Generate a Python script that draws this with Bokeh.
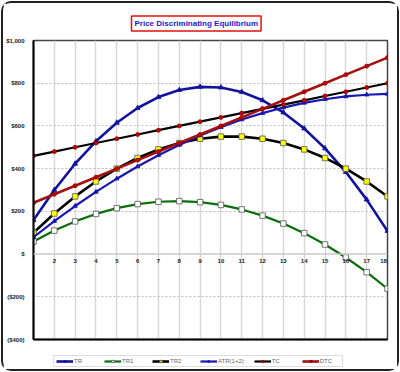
from bokeh.plotting import figure
from bokeh.layouts import column
from bokeh.models import (FixedTicker, Legend, LegendItem, Span, LabelSet,
                          ColumnDataSource, Range1d)
from bokeh.core.properties import value
from bokeh.embed import file_html
from bokeh.resources import INLINE

# ---- data ----
quantity = list(range(1, 19))
tr = [159, 300, 423, 528, 615, 684, 735, 768, 783, 780, 759, 720, 663, 588, 495, 384, 255, 108]
tr1 = [59, 110, 153, 188, 215, 234, 245, 248, 243, 230, 209, 180, 143, 98, 45, -16, -85, -162]
tr2 = [100, 190, 270, 340, 400, 450, 490, 520, 540, 550, 550, 540, 520, 490, 450, 400, 340, 270]
atr = [79, 154, 225, 291, 353, 410, 463, 511, 555, 594, 630, 660, 686, 708, 725, 738, 746, 750]
tc = [460, 480, 500, 520, 540, 560, 580, 600, 620, 640, 660, 680, 700, 720, 740, 760, 780, 800]
dtc = [240, 280, 320, 360, 400, 440, 480, 520, 560, 600, 640, 680, 720, 760, 800, 840, 880, 920]
y_ticks = [-400, -200, 0, 200, 400, 600, 800, 1000]
y_tick_labels = ["($400)", "($200)", "$", "$200", "$400", "$600", "$800", "$1,000"]
x_tick_labels = [str(q) for q in quantity[1:]]

FONT = "Liberation Sans"

p = figure(width=394, height=345, output_backend="svg", toolbar_location=None,
           x_range=Range1d(1, 18), y_range=Range1d(-400, 1000),
           min_border_left=27, min_border_right=10, min_border_top=37,
           min_border_bottom=9, background_fill_color="white",
           border_fill_color="white")

# title
p.title.text = "Price Discriminating Equilibrium"
p.title.align = "left"
p.title.offset = 98
p.title.text_font = FONT
p.title.text_font_size = "8px"
p.title.text_font_style = "bold"
p.title.text_color = "#1a1ad0"
p.title.border_line_color = "#e01010"
p.title.border_line_width = 1.5
p.title.background_fill_color = "white"
p.title.padding = 3
p.title.standoff = 19

# frame outline
p.outline_line_color = "#444444"
p.outline_line_width = 1.5

# y axis
p.yaxis.ticker = FixedTicker(ticks=y_ticks)
p.yaxis.major_label_overrides = {t: l for t, l in zip(y_ticks, y_tick_labels)}
p.yaxis.major_label_text_font = FONT
p.yaxis.major_label_text_font_size = "6px"
p.yaxis.major_label_text_font_style = "bold"
p.yaxis.major_label_text_color = "#222222"
p.yaxis.major_tick_line_color = None
p.yaxis.minor_tick_line_color = None
p.yaxis.axis_line_color = "black"
p.yaxis.axis_line_width = 2
p.yaxis.major_label_standoff = 3

# x axis (line only; labels drawn at zero line)
p.xaxis.ticker = FixedTicker(ticks=quantity)
p.xaxis.major_label_text_color = None
p.xaxis.major_label_text_font_size = "1px"
p.xaxis.major_tick_line_color = None
p.xaxis.minor_tick_line_color = None
p.xaxis.axis_line_color = "black"
p.xaxis.axis_line_width = 2
p.xaxis.major_label_standoff = 0

# grids
p.xgrid.ticker = FixedTicker(ticks=quantity)
p.xgrid.grid_line_color = "#d8d8d8"
p.xgrid.grid_line_width = 1.5
p.ygrid.ticker = FixedTicker(ticks=[t for t in y_ticks if t != 0])
p.ygrid.grid_line_color = "#bdbdbd"
p.ygrid.grid_line_dash = "2 2"
p.ygrid.grid_line_width = 1
p.add_layout(Span(location=0, dimension="width", line_color="#c8c8c8", line_width=1.5))

# x labels along the zero line
offsets = [0] * (len(x_tick_labels) - 1) + [-4]
lab_src = ColumnDataSource(dict(x=quantity[1:], y=[0] * len(x_tick_labels),
                                t=x_tick_labels, dx=offsets))
p.add_layout(LabelSet(x="x", y="y", text="t", source=lab_src, text_align="center",
                      text_baseline="top", y_offset=-5, x_offset="dx",
                      text_font=value(FONT), text_font_size="6px",
                      text_font_style="bold", text_color="#222222"))

# legend strip (separate figure under the chart)
lf = figure(width=394, height=21, output_backend="svg", toolbar_location=None,
            x_range=Range1d(1000, 1001), y_range=Range1d(5000, 5001),
            x_axis_type=None, y_axis_type=None, min_border=0,
            background_fill_color="white", border_fill_color="white")
lf.grid.visible = False
lf.outline_line_color = None

items = []

def series(name, ys, color, lw, marker, msize, mfill, mline):
    p.line(quantity, ys, line_color=color, line_width=lw)
    p.scatter(quantity, ys, marker=marker, size=msize, fill_color=mfill,
              line_color=mline, line_width=0.8)
    l = lf.line(quantity, ys, line_color=color, line_width=lw)
    m = lf.scatter(quantity, ys, marker=marker, size=msize, fill_color=mfill,
                   line_color=mline, line_width=0.8)
    items.append(LegendItem(label=name, renderers=[l, m]))

series("TR", tr, "#12129e", 2.6, "triangle", 5, "#12129e", "#12129e")
series("TR1", tr1, "#0a6e0a", 2.2, "square", 5.5, "white", "#555555")
series("TR2", tr2, "black", 2.6, "square", 5.5, "#ffff00", "#555555")
series("ATR(1+2)", atr, "#1818b0", 2.2, "triangle", 4.5, "#1818b0", "#1818b0")
series("TC", tc, "black", 2.2, "circle", 4, "#cc0000", "#880000")
series("DTC", dtc, "#a21010", 2.6, "circle", 4, "#cc0000", "#880000")

legend = Legend(items=items, orientation="horizontal", location=(20, 2),
                label_text_font=FONT, label_text_font_size="6px",
                label_text_color="#666666", border_line_color="#bbbbbb",
                padding=2, spacing=10, glyph_width=17, glyph_height=6,
                label_standoff=1, margin=0, background_fill_color="white")
lf.add_layout(legend)

layout = column(p, lf, spacing=0,
                styles={"border": "2px solid #222", "border-radius": "10px",
                        "margin": "1px", "background-color": "white"})

open("out.html", "w").write(file_html(layout, INLINE))
